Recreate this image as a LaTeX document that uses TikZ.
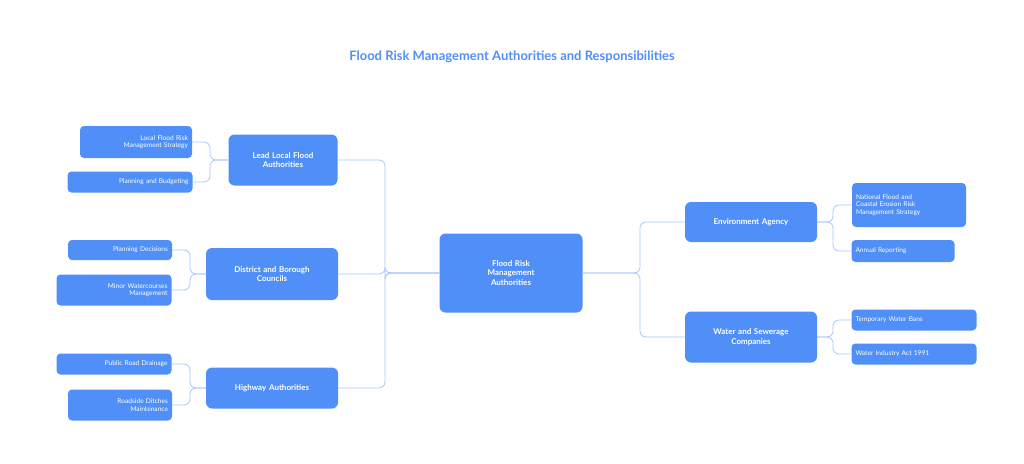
\documentclass[tikz,border=0pt]{standalone}
\usepackage{fontspec}
\setmainfont{Lato}
\usetikzlibrary{arrows.meta}
\definecolor{nodeblue}{HTML}{4F8FF7}
\definecolor{linkblue}{HTML}{A6C6FA}

\begin{document}
\begin{tikzpicture}[x=1pt,y=-1pt,
  hub/.style={rectangle,rounded corners=6pt,fill=nodeblue,text=white,font=\bfseries\fontsize{8}{9.5}\selectfont,align=center,inner sep=0pt},
  leaf/.style={rectangle,rounded corners=4pt,fill=nodeblue,text=white,font=\fontsize{6.6}{7.6}\selectfont,inner sep=0pt},
  link/.style={draw=linkblue,line width=0.8pt,rounded corners=6pt}]
\useasboundingbox (0,0) rectangle (1024,463);
\node[font=\bfseries\fontsize{13}{15}\selectfont,text=nodeblue] (title) at (512,57) {Flood Risk Management Authorities and Responsibilities};

\node[hub,minimum width=143,minimum height=79,text width=120] (frma) at (511,273) {Flood Risk\\Management\\Authorities};

\node[hub,minimum width=109,minimum height=51,text width=100] (llfa) at (283,160) {Lead Local Flood\\Authorities};
\node[hub,minimum width=132,minimum height=52,text width=120] (dbc) at (272,274) {District and Borough\\Councils};
\node[hub,minimum width=132,minimum height=41,text width=120] (ha) at (272,388) {Highway Authorities};
\node[hub,minimum width=132,minimum height=40,text width=120] (ea) at (751,222) {Environment Agency};
\node[hub,minimum width=132,minimum height=51,text width=120] (wsc) at (751,337) {Water and Sewerage\\Companies};

% left leaves
\node[leaf,minimum width=112,minimum height=32,text width=104,align=right] (lfrms) at (136,142) {Local Flood Risk\\Management Strategy};
\node[leaf,minimum width=125,minimum height=21,text width=117,align=right] (pb) at (130,182) {Planning and Budgeting};
\node[leaf,minimum width=104,minimum height=20,text width=96,align=right] (pd) at (120,250) {Planning Decisions};
\node[leaf,minimum width=115,minimum height=31,text width=107,align=right] (mwm) at (114,290) {Minor Watercourses\\Management};
\node[leaf,minimum width=115,minimum height=21,text width=107,align=right] (prd) at (114,364) {Public Road Drainage};
\node[leaf,minimum width=104,minimum height=31,text width=96,align=right] (rdm) at (120,405) {Roadside Ditches\\Maintenance};

% right leaves
\node[leaf,minimum width=114,minimum height=44,text width=106,align=left] (nfcs) at (909,205) {National Flood and\\Coastal Erosion Risk\\Management Strategy};
\node[leaf,minimum width=103,minimum height=22,text width=95,align=left] (ar) at (903,251) {Annual Reporting};
\node[leaf,minimum width=125,minimum height=21,text width=117,align=left] (twb) at (914,320) {Temporary Water Bans};
\node[leaf,minimum width=125,minimum height=21,text width=117,align=left] (wia) at (914,354) {Water Industry Act 1991};

% connectors
\foreach \n in {llfa,dbc,ha}
  \draw[link] (frma.west) -- (385,273) |- (\n.east);
\foreach \n in {ea,wsc}
  \draw[link] (frma.east) -- (640,273) |- (\n.west);
\foreach \n in {lfrms,pb}
  \draw[link] (llfa.west) -- (210,160) |- (\n.east);
\foreach \n in {pd,mwm}
  \draw[link] (dbc.west) -- (190,274) |- (\n.east);
\foreach \n in {prd,rdm}
  \draw[link] (ha.west) -- (190,388) |- (\n.east);
\foreach \n in {nfcs,ar}
  \draw[link] (ea.east) -- (833,222) |- (\n.west);
\foreach \n in {twb,wia}
  \draw[link] (wsc.east) -- (833,337) |- (\n.west);
\end{tikzpicture}
\end{document}
